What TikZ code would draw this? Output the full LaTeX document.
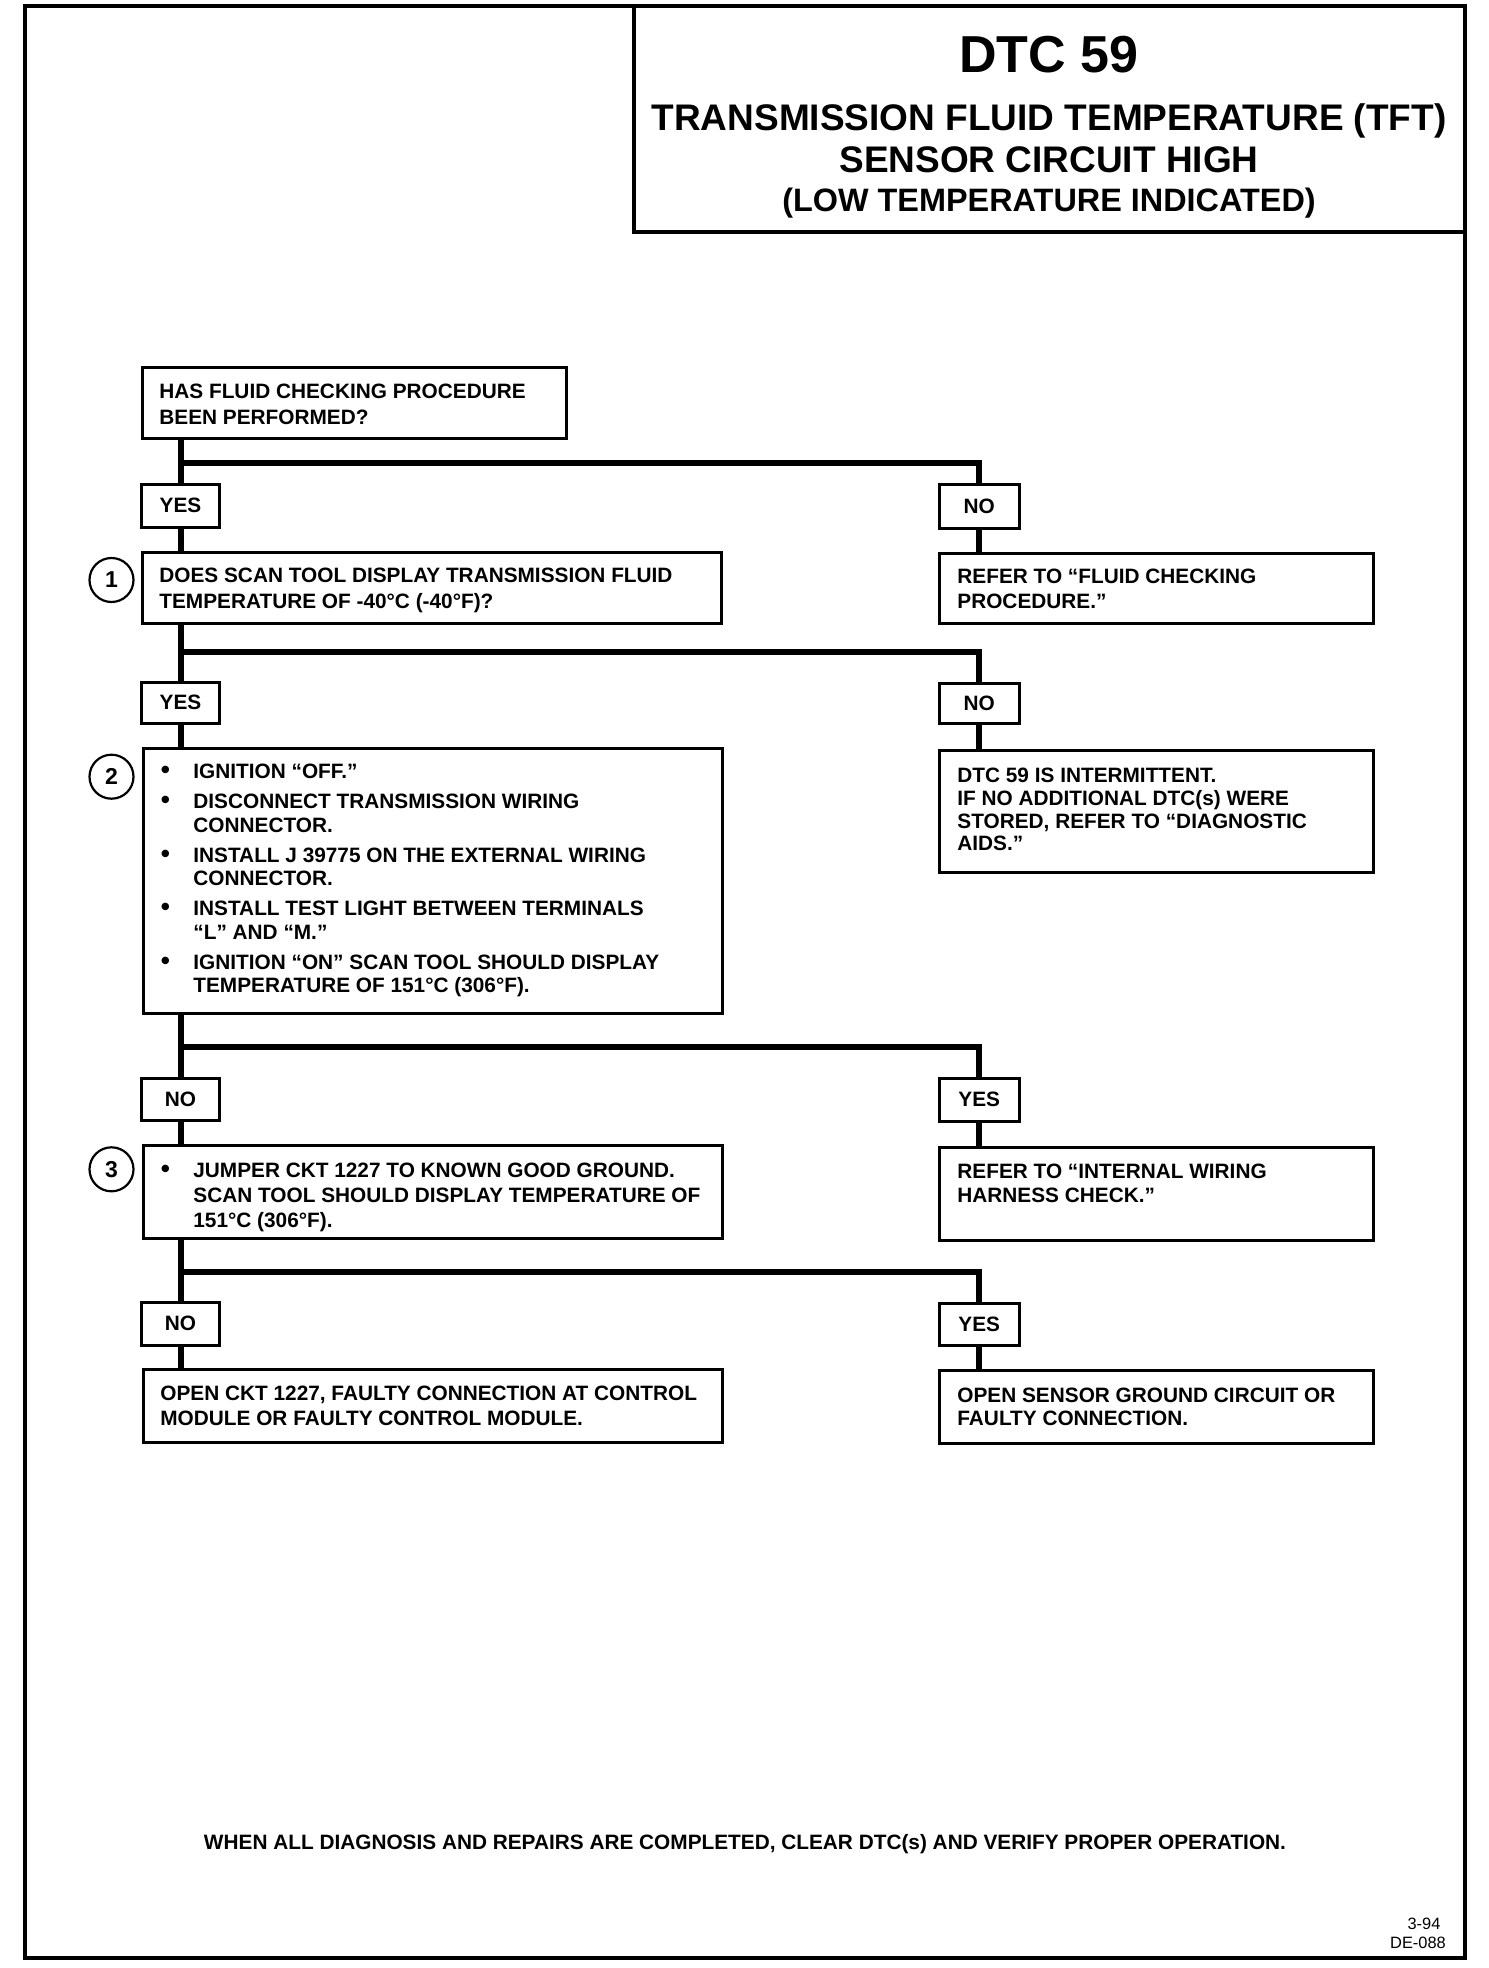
\documentclass[tikz,border=0pt]{standalone}
\usepackage{fontspec}
\setmainfont{Liberation Sans}
\usetikzlibrary{fit,calc}
\newcommand\bodyfont{\bfseries\fontsize{10.4}{12.4}\selectfont}
\newcommand\bul{\llap{{\fontsize{13}{13}\selectfont•}\hspace{11.7pt}}}
\tikzset{
  frame/.style={draw, line width=2pt, inner sep=0pt},
  box/.style={draw, line width=1.5pt, inner sep=0pt},
  tag/.style={draw, line width=1.5pt, inner sep=0pt},
  tagtxt/.style={inner sep=0pt, font=\bodyfont},
  conn/.style={line width=3pt, line join=miter},
  txt/.style={inner sep=0pt, anchor=north west, align=left, font=\bodyfont},
  num/.style={draw, circle, line width=1.1pt, minimum size=22pt, inner sep=0pt, font=\bfseries\fontsize{11.5}{13}\selectfont},
  ttl/.style={inner sep=0pt, anchor=base, font=\bfseries\fontsize{18.5}{22}\selectfont},
}
\begin{document}
\begin{tikzpicture}[x=0.5pt,y=-0.5pt]
\useasboundingbox (0,0) rectangle (1488,1968);
% page frame and title box
\node[frame, fit={(25,6)(1465,1958)}] (page) {};
\node[frame, fit={(634,6)(1465,232)}] (title) {};
\node[ttl, font=\bfseries\fontsize{26}{30}\selectfont] (t1) at (1049,73) {DTC 59};
\node[ttl] (t2) at (1049,130.5) {TRANSMISSION FLUID TEMPERATURE (TFT)};
\node[ttl] (t3) at (1049,173) {SENSOR CIRCUIT HIGH};
\node[ttl, font=\bfseries\fontsize{16.2}{20}\selectfont] (t4) at (1049,212) {(LOW TEMPERATURE INDICATED)};

% boxes
\node[box, fit={(142,368)(566,439)}] (q0) {};
\node[txt, font=\bfseries\fontsize{10.4}{13}\selectfont] (q0t) at (159,384) {HAS FLUID CHECKING PROCEDURE\\BEEN PERFORMED?};

\node[tag, fit={(141.5,484)(219.5,527)}] (yes1) {};
\node[tagtxt] at (yes1.center) {YES};
\node[tag, fit={(939.5,484)(1019,528)}] (no1) {};
\node[tagtxt] at (no1.center) {NO};

\node[box, fit={(142,552)(721,623)}] (b1) {};
\node[txt, font=\bfseries\fontsize{10.4}{13}\selectfont] (b1t) at (159,567.5) {DOES SCAN TOOL DISPLAY TRANSMISSION FLUID\\TEMPERATURE OF -40°C (-40°F)?};
\node[num] (c1) at (111.5,580) {1};

\node[box, fit={(939.5,553)(1373.5,623)}] (r1) {};
\node[txt] (r1t) at (957,569) {REFER TO “FLUID CHECKING\\PROCEDURE.”};

\node[tag, fit={(141.5,682)(219.5,723)}] (yes2) {};
\node[tagtxt] at (yes2.center) {YES};
\node[tag, fit={(939.5,683)(1019,723)}] (no2) {};
\node[tagtxt] at (no2.center) {NO};

\node[box, fit={(143,748)(722,1013)}] (b2) {};
\node[txt, font=\bfseries\fontsize{10.4}{11.7}\selectfont] (b2t) at (193,764) {%
\bul IGNITION “OFF.”\\[3.3pt]
\bul DISCONNECT TRANSMISSION WIRING\\
CONNECTOR.\\[3.3pt]
\bul INSTALL J 39775 ON THE EXTERNAL WIRING\\
CONNECTOR.\\[3.3pt]
\bul INSTALL TEST LIGHT BETWEEN TERMINALS\\
“L” AND “M.”\\[3.3pt]
\bul IGNITION “ON” SCAN TOOL SHOULD DISPLAY\\
TEMPERATURE OF 151°C (306°F).};
\node[num] (c2) at (111.5,776.7) {2};

\node[box, fit={(939.5,750)(1373.5,872)}] (r2) {};
\node[txt, font=\bfseries\fontsize{10.4}{11.4}\selectfont] (r2t) at (957,767.5) {DTC 59 IS INTERMITTENT.\\IF NO ADDITIONAL DTC(s) WERE\\STORED, REFER TO “DIAGNOSTIC\\AIDS.”};

\node[tag, fit={(141.5,1078)(219.5,1120)}] (no3) {};
\node[tagtxt] at (no3.center) {NO};
\node[tag, fit={(939.5,1078)(1019,1121)}] (yes3) {};
\node[tagtxt] at (yes3.center) {YES};

\node[box, fit={(143,1145)(722,1238)}] (b3) {};
\node[txt, font=\bfseries\fontsize{10.4}{12.5}\selectfont] (b3t) at (193,1162.5) {%
\bul JUMPER CKT 1227 TO KNOWN GOOD GROUND.\\
SCAN TOOL SHOULD DISPLAY TEMPERATURE OF\\
151°C (306°F).};
\node[num] (c3) at (111.5,1169.3) {3};

\node[box, fit={(939.5,1147)(1373.5,1240)}] (r3) {};
\node[txt, font=\bfseries\fontsize{10.4}{11.7}\selectfont] (r3t) at (957,1164) {REFER TO “INTERNAL WIRING\\HARNESS CHECK.”};

\node[tag, fit={(141.5,1302)(219.5,1345)}] (no4) {};
\node[tagtxt] at (no4.center) {NO};
\node[tag, fit={(939.5,1303)(1019,1345)}] (yes4) {};
\node[tagtxt] at (yes4.center) {YES};

\node[box, fit={(143,1369)(722,1442)}] (b4) {};
\node[txt, font=\bfseries\fontsize{10.4}{12.5}\selectfont] (b4t) at (160,1386) {OPEN CKT 1227, FAULTY CONNECTION AT CONTROL\\MODULE OR FAULTY CONTROL MODULE.};

\node[box, fit={(939.5,1370)(1373.5,1443)}] (r4) {};
\node[txt, font=\bfseries\fontsize{10.4}{11.7}\selectfont] (r4t) at (957,1387.5) {OPEN SENSOR GROUND CIRCUIT OR\\FAULTY CONNECTION.};

% junctions
\coordinate (j1) at (180,463);
\coordinate (j2) at (180,651.7);
\coordinate (j3) at (180,1047);
\coordinate (j4) at (180,1272);

% connectors
\draw[conn] (q0.south -| yes1.north) -- (yes1.north);
\draw[conn] (j1 -| yes1.north) -| (no1.north);
\draw[conn] (yes1.south) -- (b1.north -| yes1.south);
\draw[conn] (no1.south) -- (r1.north -| no1.south);

\draw[conn] (b1.south -| yes2.north) -- (yes2.north);
\draw[conn] (j2 -| yes2.north) -| (no2.north);
\draw[conn] (yes2.south) -- (b2.north -| yes2.south);
\draw[conn] (no2.south) -- (r2.north -| no2.south);

\draw[conn] (b2.south -| no3.north) -- (no3.north);
\draw[conn] (j3 -| no3.north) -| (yes3.north);
\draw[conn] (no3.south) -- (b3.north -| no3.south);
\draw[conn] (yes3.south) -- (r3.north -| yes3.south);

\draw[conn] (b3.south -| no4.north) -- (no4.north);
\draw[conn] (j4 -| no4.north) -| (yes4.north);
\draw[conn] (no4.south) -- (b4.north -| no4.south);
\draw[conn] (yes4.south) -- (r4.north -| yes4.south);

% footer
\node[inner sep=0pt, anchor=base, font=\bodyfont] (foot) at (745,1849) {WHEN ALL DIAGNOSIS AND REPAIRS ARE COMPLETED, CLEAR DTC(s) AND VERIFY PROPER OPERATION.};
\node[inner sep=0pt, anchor=base, font=\fontsize{8.2}{10}\selectfont] (code1) at (1424,1929) {3-94};
\node[inner sep=0pt, anchor=base, font=\fontsize{8.2}{10}\selectfont] (code2) at (1418,1948.5) {DE-088};
\end{tikzpicture}
\end{document}
